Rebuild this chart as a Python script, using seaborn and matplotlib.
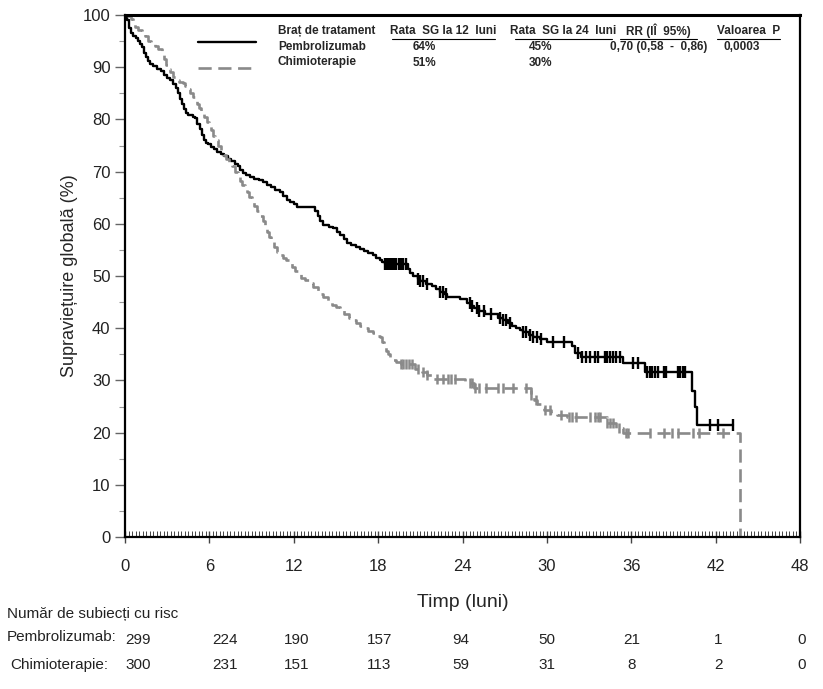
import numpy as np
import matplotlib
matplotlib.use("Agg")
import matplotlib.pyplot as plt
from matplotlib.lines import Line2D
from matplotlib.ticker import MultipleLocator
import seaborn as sns

# Kaplan-Meier steps (months, % surviving)
pem_t = [0, 0.15, 0.3, 0.45, 0.6, 0.75, 0.9, 1.05, 1.2, 1.35, 1.5, 1.65, 1.8, 2.0, 2.3,
         2.55, 2.8, 3.0, 3.2, 3.4, 3.6, 3.75, 3.9, 4.05, 4.2, 4.35, 4.5, 4.8, 5.0, 5.15,
         5.3, 5.45, 5.6, 5.75, 5.9, 6.1, 6.3, 6.55, 6.8, 7.05, 7.3, 7.55, 7.8, 8.0, 8.2,
         8.4, 8.6, 8.9, 9.2, 9.5, 9.8, 10.1, 10.4, 10.7, 11.0, 11.25, 11.5, 11.75, 12.0,
         12.2, 13.5, 13.7, 13.9, 14.1, 14.5, 14.8, 15.1, 15.3, 15.55, 15.8, 16.1, 16.4,
         16.7, 17.0, 17.3, 17.6, 17.85, 18.1, 18.3, 18.5, 20.1, 20.3, 20.5, 20.8, 21.0,
         21.4, 21.8, 22.1, 22.4, 22.7, 22.9, 23.8, 24.3, 24.6, 24.8, 25.2, 25.6, 26.5,
         26.9, 27.2, 27.5, 27.8, 28.1, 28.3, 28.7, 29.0, 29.5, 30.0, 31.8, 32.0, 32.4,
         35.4, 37.0, 40.3, 40.5, 40.7, 43.2]
pem_s = [100, 99, 97.5, 96.5, 96, 95.5, 95, 94.5, 93.8, 92.8, 92, 91.2, 90.6, 90.2, 89.7,
         89.2, 88.6, 88, 87.5, 86.8, 86, 85, 84, 83, 82, 81.3, 80.8, 80.5, 80.2, 79.2,
         78.2, 77, 76, 75.5, 75.2, 74.8, 74.4, 73.8, 73.4, 72.9, 72.4, 72, 71.5, 71, 70.4,
         69.8, 69.4, 69, 68.6, 68.3, 68, 67.5, 67, 66.5, 66, 65.3, 64.6, 64.2, 63.8,
         63.3, 62.5, 61.5, 60.5, 59.8, 59.4, 59.1, 58.4, 57.8, 57.0, 56.4, 55.9, 55.5,
         55.1, 54.8, 54.4, 54.0, 53.5, 53.0, 52.6, 52.3, 51.4, 50.6, 50, 49.5, 49,
         48.5, 48, 47.5, 47, 46.5, 46, 45.5, 44.8, 44.3, 43.8, 43.3, 42.8, 42,
         41.5, 41, 40.5, 40, 39.6, 39.2, 38.7, 38.3, 37.9, 37.4, 36.5, 35.3, 34.5,
         33.3, 31.6, 28, 25, 21.5, 21.5]

chemo_t = [0, 0.2, 0.4, 0.55, 0.7, 0.9, 1.2, 1.4, 1.6, 1.85, 2.1, 2.35, 2.6, 2.75, 2.9,
           3.05, 3.2, 3.4, 3.6, 3.85, 4.1, 4.3, 4.5, 4.65, 4.8, 4.95, 5.1, 5.25, 5.4, 5.6,
           5.8, 5.95, 6.1, 6.25, 6.4, 6.6, 6.8, 7.0, 7.2, 7.4, 7.6, 7.8, 8.0, 8.15, 8.3,
           8.5, 8.7, 8.85, 9.0, 9.2, 9.4, 9.6, 9.8, 9.95, 10.1, 10.25, 10.4, 10.6, 10.8,
           11.0, 11.2, 11.45, 11.7, 11.9, 12.1, 12.3, 12.5, 12.8, 13.1, 13.4, 13.7, 13.9,
           14.1, 14.4, 14.7, 15.0, 15.3, 15.6, 15.9, 16.15, 16.4, 16.7, 17.0, 17.3, 17.6,
           17.85, 18.1, 18.25, 18.4, 18.55, 18.7, 18.85, 19.0, 19.3, 19.6, 20.6, 21.1,
           21.5, 21.8, 24.2, 24.8, 28.9, 29.05, 29.3, 29.55, 29.8, 30.3, 30.7, 31.4,
           34.3, 34.9, 35.4, 43.7]
chemo_s = [100, 99.8, 99.3, 98.5, 97.7, 97.2, 96.7, 96, 95, 94.5, 94, 93.4, 92.7, 91.6, 90.5,
           89.7, 89, 88.2, 87.6, 87.2, 86.9, 86.4, 85.8, 85, 84.3, 83.6, 82.9, 82.2, 81.4, 80.4,
           79.5, 78.7, 77.9, 76.9, 76, 75, 74, 73.2, 72.5, 71.8, 71, 70, 69, 68.2, 67.5,
           66.7, 66, 65.2, 64.4, 63.4, 62.5, 61.5, 60.5, 59.5, 58.5, 57.5, 56.5, 55.5, 54.6,
           54, 53.5, 53, 52.5, 51.7, 51, 50.3, 49.6, 49.2, 48.7, 47.8, 47, 46.5,
           46, 45.2, 44.5, 44, 43.5, 42.7, 42, 41.5, 41, 40.5, 40, 39.5, 39,
           38.6, 38.3, 37.4, 36.5, 35.7, 35, 34.5, 34, 33.6, 33.2, 32.2, 31.6,
           31, 30.3, 29.5, 28.5, 27.2, 26.3, 25.5, 24.8, 24.3, 23.8, 23.4, 23,
           21.8, 20.8, 20, 0]

# censoring times
pem_cens = [18.5, 18.6, 18.7, 18.8, 18.9, 19.0, 19.1, 19.2, 19.3, 19.5, 19.6, 19.8, 20.0,
            20.8, 21.0, 21.2, 21.5, 22.4, 22.6, 22.8, 24.5, 24.7, 25.0, 25.2, 25.5, 26.0,
            26.7, 26.9, 27.1, 27.4, 28.3, 28.5, 28.8, 29.0, 29.3, 29.6, 30.4, 31.2,
            32.2, 32.5, 32.8, 33.1, 33.4, 33.6, 34.1, 34.3, 34.5, 34.7, 34.9, 35.2,
            36.1, 36.5, 37.1, 37.3, 37.5, 37.7, 37.9, 38.3, 38.5, 39.3, 39.5, 39.7, 39.8,
            41.6, 42.2, 43.2]
chemo_cens = [19.6, 19.8, 20.0, 20.2, 20.4, 20.8, 21.2, 21.5, 22.2, 22.6, 23.0, 23.2, 23.5,
              24.5, 24.7, 24.9, 25.2, 25.7, 26.5, 26.9, 27.6, 28.5, 28.9, 29.2, 29.9, 30.2,
              31.0, 31.6, 31.8, 32.1, 33.1, 33.4, 33.6, 33.8, 34.3, 34.5, 34.7, 35.1,
              35.6, 35.8, 37.3, 38.3, 38.9, 39.3, 40.4, 40.8, 42.5]

x_ticks = [0, 6, 12, 18, 24, 30, 36, 42, 48]
risk_pem = [299, 224, 190, 157, 94, 50, 21, 1, 0]
risk_chemo = [300, 231, 151, 113, 59, 31, 8, 2, 0]
risk_x = [0.95, 7.1, 12.2, 18.1, 23.9, 30.0, 36.0, 42.2, 48.1]

sns.set_theme(style="ticks")
plt.rcParams['font.family'] = ['Liberation Sans', 'DejaVu Sans']

W, H = 823, 689
fig = plt.figure(figsize=(W / 100, H / 100), dpi=100)
ax = fig.add_axes([125 / W, 1 - 537 / H, 675 / W, 522 / H])


def px(x, y):
    return x / W, 1 - y / H


def at_time(t, s, c):
    idx = np.searchsorted(t, c, side='right') - 1
    return np.asarray(s)[idx]


grey = '#8a8a8a'
sns.lineplot(x=pem_t, y=pem_s, drawstyle='steps-post', color='black', lw=1.7,
             ax=ax, estimator=None)
sns.lineplot(x=chemo_t, y=chemo_s, drawstyle='steps-post', color=grey, lw=1.9,
             linestyle=(0, (5, 2.5)), ax=ax, estimator=None)
sns.scatterplot(x=pem_cens, y=at_time(pem_t, pem_s, pem_cens), marker='|', s=70,
                color='black', linewidth=1.7, ax=ax, zorder=3)
sns.scatterplot(x=chemo_cens, y=at_time(chemo_t, chemo_s, chemo_cens), marker='|', s=60,
                color=grey, linewidth=1.8, ax=ax, zorder=3)

ax.set_xlim(0, 48)
ax.set_ylim(0, 100)
ax.set_xticks(x_ticks)
ax.set_yticks(range(0, 101, 10))
ax.xaxis.set_minor_locator(MultipleLocator(0.25))
ax.yaxis.set_minor_locator(MultipleLocator(5))
ax.tick_params(axis='x', which='major', direction='inout', length=8, width=1, labelsize=12,
               pad=12, color='#444444', labelcolor='#222222')
ax.tick_params(axis='x', which='minor', direction='in', length=4, width=0.7, color='#444444')
ax.tick_params(axis='y', which='major', direction='out', length=7, width=1, labelsize=12,
               color='#666666', labelcolor='#222222')
ax.tick_params(axis='y', which='minor', direction='out', length=4, width=0.8, color='#999999')
for sp in ax.spines.values():
    sp.set_color('black')
    sp.set_linewidth(1.6)
ax.spines['top'].set_linewidth(2.2)

ax.set_xlabel('Timp (luni)', fontsize=14, labelpad=14)
ax.set_ylabel('Supraviețuire globală (%)', fontsize=13, labelpad=3)

# legend table
fig.add_artist(Line2D([198 / W, 256 / W], [1 - 42 / H, 1 - 42 / H], color='black', lw=1.7))
fig.add_artist(Line2D([198 / W, 256 / W], [1 - 68 / H, 1 - 68 / H], color=grey, lw=1.9,
                      linestyle=(0, (5, 2.5))))
lk = dict(fontsize=8.5, fontweight='bold', va='center')
fig.text(*px(278, 31), 'Braț de tratament', ha='left', **lk)
headers = [('Rata  SG la 12  luni', 392, 495), ('Rata  SG la 24  luni', 515, 612),
           ('RR (IÎ  95%)', 620, 697), ('Valoarea  P', 717, 780)]
for label, x0, x1 in headers:
    fig.text(*px((x0 + x1) / 2, 31), label, ha='center', **lk)
    fig.add_artist(Line2D([x0 / W, x1 / W], [1 - 38.5 / H, 1 - 38.5 / H], color='black', lw=0.8))
fig.text(*px(278, 47), 'Pembrolizumab', ha='left', **lk)
fig.text(*px(278, 62.5), 'Chimioterapie', ha='left', **lk)
fig.text(*px(424, 47), '64%', ha='center', **lk)
fig.text(*px(541, 47), '45%', ha='center', **lk)
fig.text(*px(659, 47), '0,70 (0,58  -  0,86)', ha='center', **lk)
fig.text(*px(742, 47), '0,0003', ha='center', **lk)
fig.text(*px(424, 62.5), '51%', ha='center', **lk)
fig.text(*px(541, 62.5), '30%', ha='center', **lk)

# number at risk table
rk = dict(fontsize=11, va='center', color='#222222')
fig.text(*px(7, 614), 'Număr de subiecți cu risc', ha='left', **rk)
fig.text(*px(7, 637), 'Pembrolizumab:', ha='left', **rk)
fig.text(*px(10, 665), 'Chimioterapie:', ha='left', **rk)
for xv, n1, n2 in zip(risk_x, risk_pem, risk_chemo):
    fx = (125 + xv * 675 / 48) / W
    fig.text(fx, 1 - 640 / H, str(n1), ha='center', **rk)
    fig.text(fx, 1 - 665 / H, str(n2), ha='center', **rk)

fig.savefig('out.png', dpi=100)
